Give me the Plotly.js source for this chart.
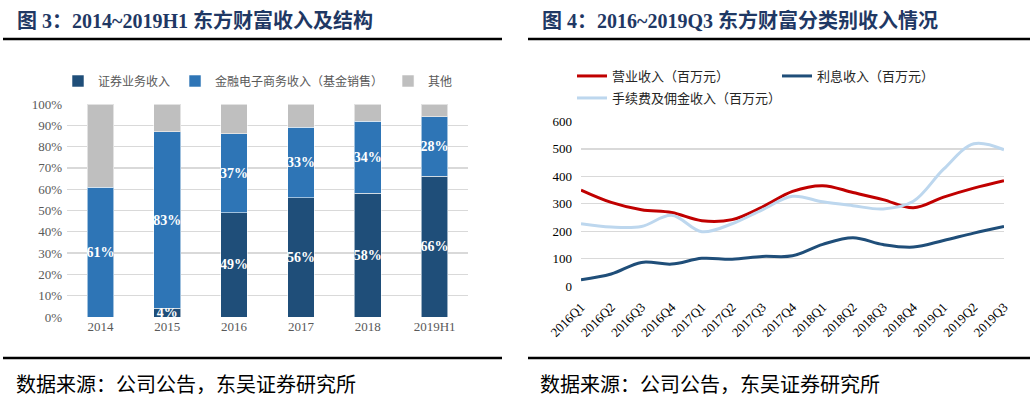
<!DOCTYPE html>
<html>
<head>
<meta charset="utf-8">
<script src="https://cdn.plot.ly/plotly-3.0.1.min.js"></script>
<style>html,body{margin:0;padding:0;background:#fff;}#chart{width:1035px;height:397px;}</style>
</head>
<body>
<div id="chart"></div>
<script>
// ---- Figure 3 data (share of revenue, %) ----
const years = ['2014', '2015', '2016', '2017', '2018', '2019H1'];
const securities = [0, 4, 49, 56, 58, 66];      // 证券业务收入
const ecommerce = [61, 83, 37, 33, 34, 28];      // 金融电子商务收入（基金销售）
const others = [39, 13, 14, 11, 8, 6];           // 其他

// ---- Figure 4 data (百万元) ----
const quarters = ['2016Q1','2016Q2','2016Q3','2016Q4','2017Q1','2017Q2','2017Q3','2017Q4',
                  '2018Q1','2018Q2','2018Q3','2018Q4','2019Q1','2019Q2','2019Q3'];
const revenue = [350, 305, 278, 268, 238, 242, 288, 345, 366, 341, 315, 285, 324, 357, 384];
const interest = [23, 44, 86, 80, 101, 98, 108, 110, 152, 176, 151, 142, 166, 193, 217];
const commission = [227, 215, 217, 258, 198, 227, 278, 327, 307, 293, 281, 309, 426, 519, 497];

const serif = '"Liberation Serif", "Times New Roman", "Noto Sans CJK SC", serif';
const cjk = '"Noto Sans CJK SC", sans-serif';
const titleFont = '"Liberation Serif", "Noto Sans CJK SC", serif';
const W = 1035, H = 397;
const px = x => x / W;
const py = y => 1 - y / H;

const pct = arr => arr.map(v => v > 0 ? v + '%' : '');
const barLabelFont = {family: serif, size: 14, color: '#ffffff', weight: 'bold'};

const traces = [
  {type: 'bar', x: years, y: securities, name: '证券业务收入', xaxis: 'x', yaxis: 'y', legend: 'legend',
   marker: {color: '#1F4E79', line: {color: 'rgba(255,255,255,0.55)', width: 1}},
   text: pct(securities), textposition: 'inside', insidetextanchor: 'middle', textangle: 0,
   constraintext: 'none', cliponaxis: false, textfont: barLabelFont, hoverinfo: 'skip'},
  {type: 'bar', x: years, y: ecommerce, name: '金融电子商务收入（基金销售）', xaxis: 'x', yaxis: 'y', legend: 'legend',
   marker: {color: '#2E75B6', line: {color: 'rgba(255,255,255,0.55)', width: 1}},
   text: pct(ecommerce), textposition: 'inside', insidetextanchor: 'middle', textangle: 0,
   constraintext: 'none', textfont: barLabelFont, hoverinfo: 'skip'},
  {type: 'bar', x: years, y: others, name: '其他', xaxis: 'x', yaxis: 'y', legend: 'legend',
   marker: {color: '#BFBFBF', line: {color: 'rgba(255,255,255,0.55)', width: 1}},
   hoverinfo: 'skip'},
  {type: 'scatter', mode: 'lines', x: quarters, y: revenue, name: '营业收入（百万元）', xaxis: 'x2', yaxis: 'y2',
   legend: 'legend2', line: {color: '#C00000', width: 3, shape: 'spline', smoothing: 1}},
  {type: 'scatter', mode: 'lines', x: quarters, y: interest, name: '利息收入（百万元）', xaxis: 'x2', yaxis: 'y2',
   legend: 'legend2', line: {color: '#1F4E79', width: 3, shape: 'spline', smoothing: 1}},
  {type: 'scatter', mode: 'lines', x: quarters, y: commission, name: '手续费及佣金收入（百万元）', xaxis: 'x2', yaxis: 'y2',
   legend: 'legend3', line: {color: '#BDD7EE', width: 3, shape: 'spline', smoothing: 1}}
];

const tickFontGray = {family: serif, size: 13, color: '#595959'};
const tickFontBlack = {family: serif, size: 13, color: '#000000'};

const layout = {
  width: W, height: H,
  margin: {l: 0, r: 0, t: 0, b: 0},
  paper_bgcolor: '#ffffff', plot_bgcolor: '#ffffff',
  barmode: 'stack', bargap: 0.6,
  showlegend: true,
  xaxis: {domain: [px(67), px(468)], anchor: 'y', type: 'category', showgrid: false, showline: false,
          zeroline: false, ticks: '', tickfont: tickFontGray, fixedrange: true},
  yaxis: {domain: [py(317), py(104)], anchor: 'x', range: [0, 100], dtick: 10, ticksuffix: '%',
          showgrid: true, gridcolor: '#D9D9D9', gridwidth: 1.3, zeroline: false, showline: false,
          ticks: '', tickfont: tickFontGray, ticklabelstandoff: 4, fixedrange: true},
  xaxis2: {domain: [px(581), px(1004)], anchor: 'y2', type: 'category', showgrid: false, showline: false,
           zeroline: false, ticks: '', tickangle: -45, tickfont: tickFontBlack, ticklabelstandoff: 10, fixedrange: true},
  yaxis2: {domain: [py(286), py(121.5)], anchor: 'x2', range: [0, 600], dtick: 100,
           showgrid: true, gridcolor: '#D9D9D9', gridwidth: 1.3, zeroline: false, showline: false,
           ticks: '', tickfont: tickFontBlack, ticklabelstandoff: 8, fixedrange: true},
  legend: {orientation: 'h', traceorder: 'normal', x: px(58), y: py(81), xanchor: 'left', yanchor: 'middle',
           font: {family: cjk, size: 12, color: '#595959'}, bgcolor: 'rgba(0,0,0,0)'},
  legend2: {orientation: 'h', x: px(572), y: py(76), xanchor: 'left', yanchor: 'middle',
            entrywidth: 160, font: {family: cjk, size: 13, color: '#262626'}, bgcolor: 'rgba(0,0,0,0)'},
  legend3: {orientation: 'h', x: px(572), y: py(98), xanchor: 'left', yanchor: 'middle',
            font: {family: cjk, size: 13, color: '#262626'}, bgcolor: 'rgba(0,0,0,0)'},
  shapes: [
    {type: 'line', xref: 'paper', yref: 'paper', x0: px(3), x1: px(502), y0: py(39), y1: py(39),
     line: {color: '#000000', width: 2.5}},
    {type: 'line', xref: 'paper', yref: 'paper', x0: px(528), x1: px(1030), y0: py(39), y1: py(39),
     line: {color: '#000000', width: 2.5}},
    {type: 'line', xref: 'paper', yref: 'paper', x0: px(3), x1: px(502), y0: py(358), y1: py(358),
     line: {color: '#000000', width: 2.5}},
    {type: 'line', xref: 'paper', yref: 'paper', x0: px(528), x1: px(1030), y0: py(358), y1: py(358),
     line: {color: '#000000', width: 2.5}}
  ],
  annotations: [
    {text: '图 3：2014~2019H1 东方财富收入及结构', xref: 'paper', yref: 'paper', x: px(15), y: py(20),
     xanchor: 'left', yanchor: 'middle', showarrow: false,
     font: {family: titleFont, size: 20, color: '#1F3864', weight: 'bold'}},
    {text: '图 4：2016~2019Q3 东方财富分类别收入情况', xref: 'paper', yref: 'paper', x: px(540), y: py(20),
     xanchor: 'left', yanchor: 'middle', showarrow: false,
     font: {family: titleFont, size: 20, color: '#1F3864', weight: 'bold'}},
    {text: '数据来源：公司公告，东吴证券研究所', xref: 'paper', yref: 'paper', x: px(14), y: py(383),
     xanchor: 'left', yanchor: 'middle', showarrow: false,
     font: {family: cjk, size: 20, color: '#000000'}},
    {text: '数据来源：公司公告，东吴证券研究所', xref: 'paper', yref: 'paper', x: px(538), y: py(383),
     xanchor: 'left', yanchor: 'middle', showarrow: false,
     font: {family: cjk, size: 20, color: '#000000'}}
  ]
};

Plotly.newPlot('chart', traces, layout, {displayModeBar: false, staticPlot: true});
</script>
</body>
</html>
